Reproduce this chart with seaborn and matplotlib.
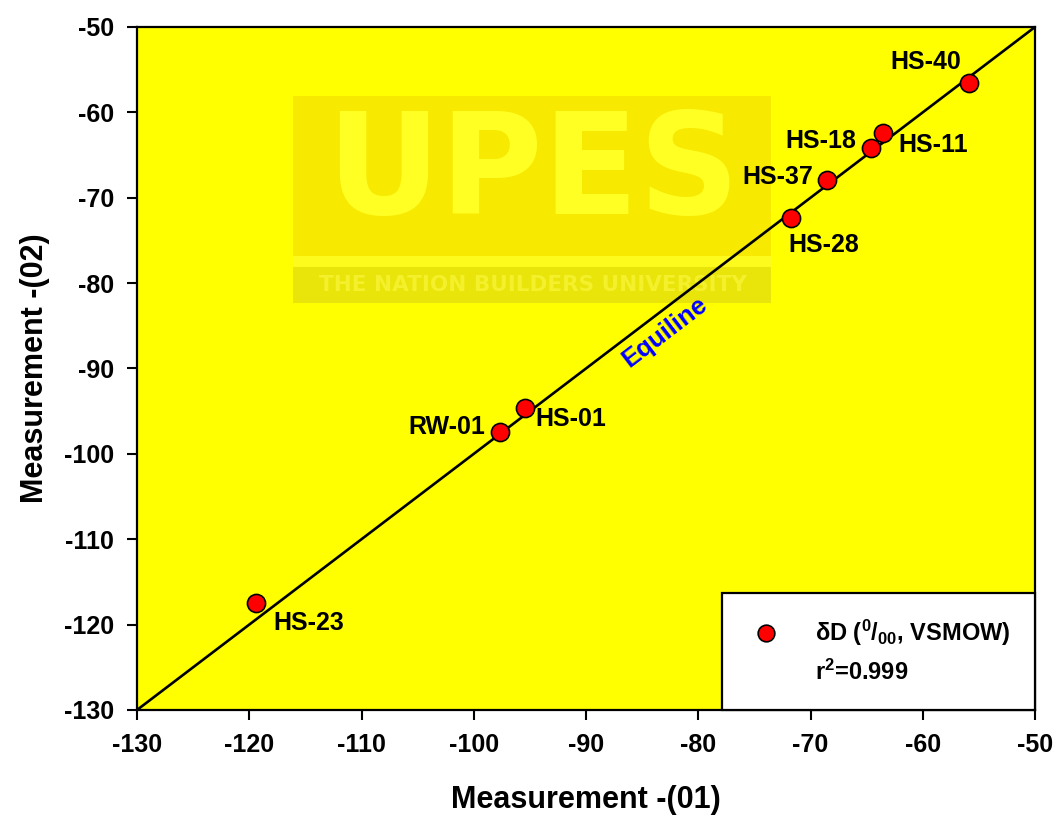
import matplotlib
matplotlib.use("Agg")
import matplotlib.pyplot as plt
from matplotlib.lines import Line2D
from matplotlib.patches import Rectangle
import seaborn as sns
import pandas as pd

# Sample stable-isotope (deuterium) values from two measurement runs
samples = ["HS-40", "HS-11", "HS-18", "HS-37", "HS-28", "HS-01", "RW-01", "HS-23"]
measurement_01 = [-55.9, -63.5, -64.6, -68.5, -71.7, -95.4, -97.7, -119.4]
measurement_02 = [-56.6, -62.4, -64.2, -67.9, -72.4, -94.6, -97.4, -117.5]

# 1:1 reference line
equiline_x = [-130, -50]
equiline_y = [-130, -50]

x_ticks = [-130, -120, -110, -100, -90, -80, -70, -60, -50]
y_ticks = [-130, -120, -110, -100, -90, -80, -70, -60, -50]

r_squared = "0.999"

df = pd.DataFrame({"sample": samples, "m01": measurement_01, "m02": measurement_02})

sns.set_theme(style="ticks")
plt.rcParams["font.family"] = ["Liberation Sans", "DejaVu Sans"]
plt.rcParams["font.weight"] = "bold"
plt.rcParams["text.color"] = "black"
plt.rcParams["axes.labelcolor"] = "black"
plt.rcParams["xtick.color"] = "black"
plt.rcParams["ytick.color"] = "black"
plt.rcParams["mathtext.fontset"] = "custom"
plt.rcParams["mathtext.rm"] = "Liberation Sans:bold"
plt.rcParams["mathtext.bf"] = "Liberation Sans:bold"
plt.rcParams["mathtext.it"] = "Liberation Sans:bold"
plt.rcParams["mathtext.default"] = "bf"

fig = plt.figure(figsize=(10.58, 8.22), dpi=100)
ax = fig.add_axes([0.1295, 0.1363, 0.8488, 0.8309])
ax.set_facecolor("#ffff00")

# Faint institutional watermark in the upper part of the panel
ax.add_patch(Rectangle((0.1737, 0.596), 0.5323, 0.303, transform=ax.transAxes,
                       facecolor="#f7ea00", edgecolor="none", zorder=0.5))
ax.add_patch(Rectangle((0.1737, 0.6486), 0.5323, 0.0161, transform=ax.transAxes,
                       facecolor="#fdfa1e", edgecolor="none", zorder=0.6))
ax.add_patch(Rectangle((0.1737, 0.596), 0.5323, 0.0526, transform=ax.transAxes,
                       facecolor="#e9e40a", edgecolor="none", zorder=0.6))
ax.text(0.441, 0.783, "UPES", transform=ax.transAxes, ha="center", va="center",
        fontsize=101, fontweight="bold", color="#ffff24",
        family=["DejaVu Sans"], zorder=0.7)
ax.text(0.441, 0.622, "THE NATION BUILDERS UNIVERSITY", transform=ax.transAxes,
        ha="center", va="center", fontsize=15.5, fontweight="bold",
        color="#f4f02c", family=["DejaVu Sans"], zorder=0.7)

sns.lineplot(x=equiline_x, y=equiline_y, color="black", linewidth=1.9, ax=ax,
             zorder=2)
sns.scatterplot(data=df, x="m01", y="m02", s=170, color="#ff0000",
                edgecolor="black", linewidth=1.2, ax=ax, zorder=3)

# Sample labels, offset (in points) from each marker
label_offsets = {
    "HS-40": (-31, 15), "HS-11": (36, -9), "HS-18": (-36, 5),
    "HS-37": (-36, 2), "HS-28": (23, -19), "HS-01": (33, -8),
    "RW-01": (-38, 3), "HS-23": (38, -14),
}
for name, xv, yv in zip(samples, measurement_01, measurement_02):
    ax.annotate(name, (xv, yv), xytext=label_offsets[name],
                textcoords="offset points", ha="center", va="center",
                fontsize=18, fontweight="bold", color="black", zorder=4)

ax.text(-83.0, -85.8, "Equiline", rotation=37.3, rotation_mode="anchor",
        ha="center", va="center", fontsize=18.5, fontweight="bold",
        color="#0000ff", zorder=4)

ax.set_xlim(-130, -50)
ax.set_ylim(-130, -50)
ax.set_xticks(x_ticks)
ax.set_yticks(y_ticks)
ax.set_xticklabels([str(t) for t in x_ticks])
ax.set_yticklabels([str(t) for t in y_ticks])
ax.tick_params(axis="both", direction="out", length=7.5, width=1.5,
               pad=9, labelsize=18, colors="black")
for lbl in ax.get_xticklabels() + ax.get_yticklabels():
    lbl.set_fontweight("bold")
for sp in ax.spines.values():
    sp.set_visible(True)
    sp.set_color("black")
    sp.set_linewidth(1.6)

ax.set_xlabel("Measurement -(01)", fontsize=22, fontweight="bold", labelpad=20)
ax.set_ylabel("Measurement -(02)", fontsize=22, fontweight="bold", labelpad=10)

handles = [
    Line2D([], [], marker="o", linestyle="none", markersize=12,
           markerfacecolor="#ff0000", markeredgecolor="black",
           markeredgewidth=1.2),
    Line2D([], [], linestyle="none", marker=None),
]
labels = ["δD ($^{0}$/$_{00}$, VSMOW)", "r$^{2}$=" + r_squared]
leg = ax.legend(handles, labels, loc="lower right", bbox_to_anchor=(1, 0),
                borderaxespad=0, frameon=True, fancybox=False,
                borderpad=1.05, handlelength=1.7, handletextpad=1.2,
                labelspacing=0.5, prop={"weight": "bold", "size": 17})
for t in leg.get_texts():
    t.set_color("black")
frame = leg.get_frame()
frame.set_edgecolor("black")
frame.set_linewidth(1.6)
frame.set_facecolor("white")
frame.set_alpha(1)
leg.set_zorder(5)

fig.savefig("out.png", dpi=100, facecolor="white")
